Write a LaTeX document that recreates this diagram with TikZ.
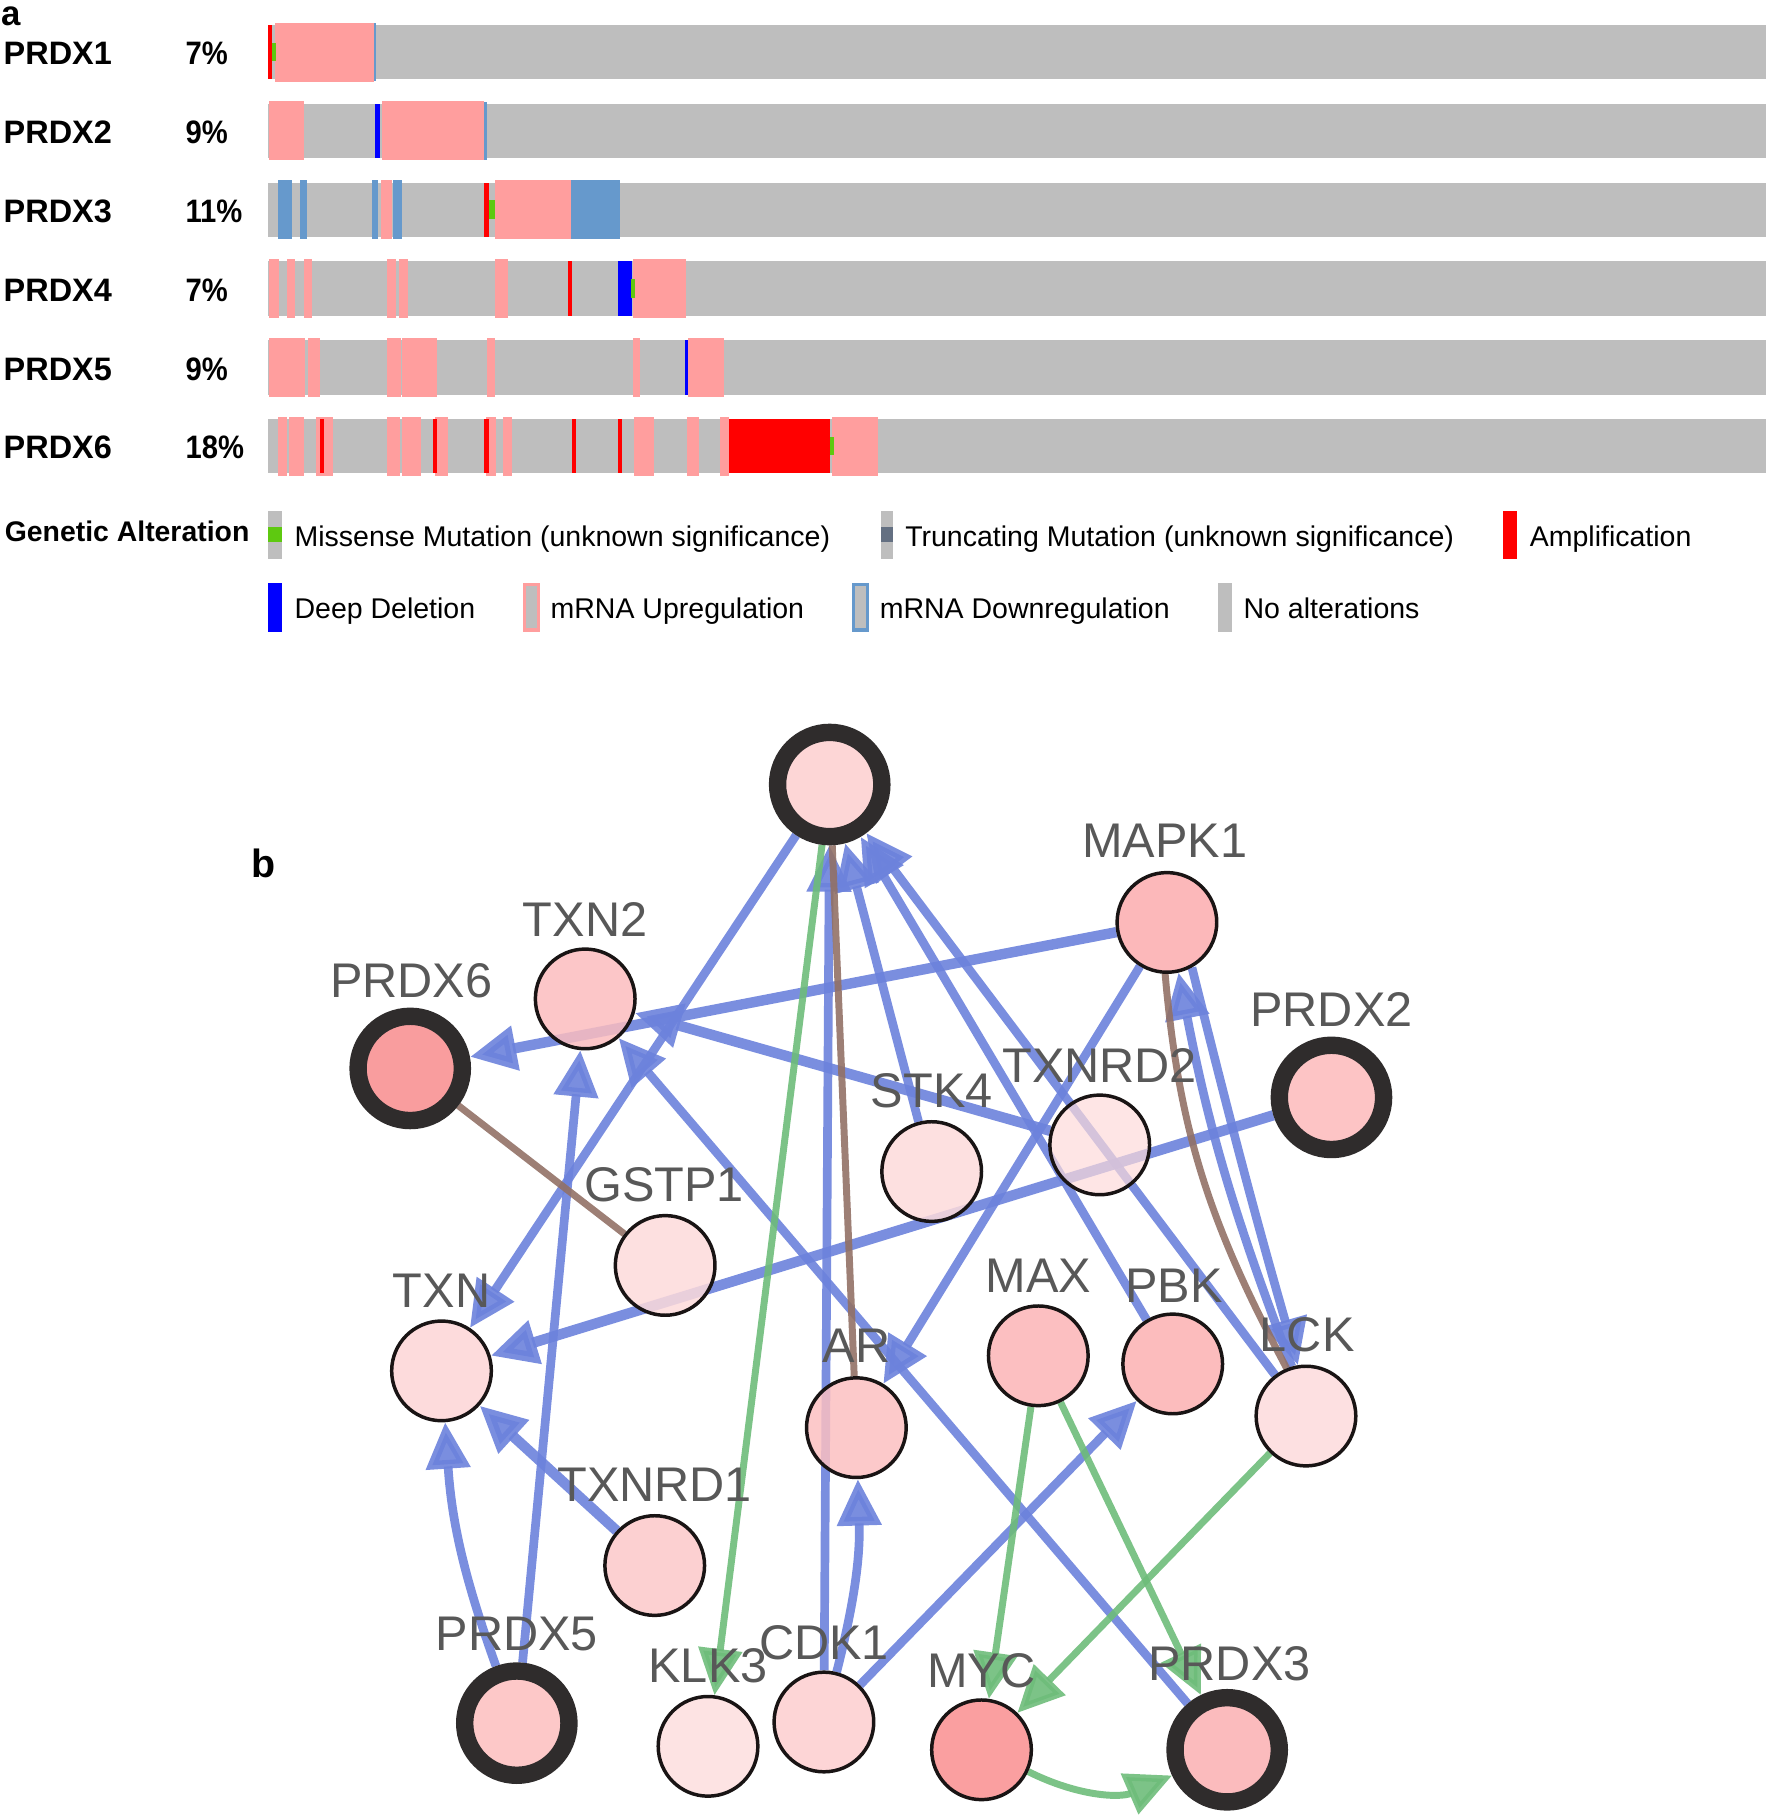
\documentclass[tikz,border=0pt]{standalone}
\usepackage{fontspec}
\setmainfont{Liberation Sans}
\usetikzlibrary{arrows.meta}
\pgfdeclarelayer{edges}
\pgfsetlayers{edges,main}

\definecolor{gbar}{RGB}{190,190,190}
\definecolor{upc}{RGB}{255,158,158}
\definecolor{downc}{RGB}{102,153,204}
\definecolor{ampc}{RGB}{255,0,0}
\definecolor{delc}{RGB}{0,0,255}
\definecolor{misc}{RGB}{94,201,16}
\definecolor{trunc}{RGB}{100,112,130}
\definecolor{eblue}{RGB}{108,130,220}
\definecolor{egreen}{RGB}{110,188,122}
\definecolor{ebrown}{RGB}{146,113,102}
\definecolor{lblc}{RGB}{88,88,88}
\definecolor{ringc}{RGB}{47,44,44}
\definecolor{nborder}{RGB}{25,20,20}

\newcommand{\pgry}{\fill[gbar] (231,23.5) rectangle (1524,-23.5);}
\newcommand{\pup}[2]{\fill[upc] (#1,25.5) rectangle (#2,-25.5);}
\newcommand{\pdown}[2]{\fill[downc] (#1,25.5) rectangle (#2,-25.5);}
\newcommand{\pamp}[2]{\fill[ampc] (#1,23.5) rectangle (#2,-23.5);}
\newcommand{\pdel}[2]{\fill[delc] (#1,23.5) rectangle (#2,-23.5);}
\newcommand{\pmis}[2]{\fill[misc] (#1,8) rectangle (#2,-8);}
\newcommand{\pthin}[1]{\fill[downc] (#1-1,25) rectangle (#1+1,-25);}

\tikzset{
  rowlbl/.style={anchor=base west, inner sep=0pt, font=\bfseries\fontsize{28}{30}\selectfont},
  pctlbl/.style={anchor=base west, inner sep=0pt, font=\bfseries\fontsize{28}{30}\selectfont, xscale=0.9},
  legtxt/.style={anchor=base west, inner sep=0pt, font=\fontsize{24.6}{26}\selectfont},
  panel/.style={anchor=base west, inner sep=0pt, font=\bfseries\fontsize{34}{36}\selectfont},
  gnode/.style={circle, draw=nborder, line width=3pt, minimum size=86pt, inner sep=0pt, fill opacity=0.85},
  seed/.style={circle, draw=ringc, line width=15pt, minimum size=90pt, inner sep=0pt, fill opacity=0.9},
  glabel/.style={anchor=base, inner sep=0pt, text=lblc, font=\fontsize{42}{44}\selectfont},
  eb/.style={draw=eblue, line width=7.5pt, opacity=0.9, -{Triangle[length=40pt,width=37pt]}},
  ebt/.style={eb, line width=9pt},
  eg/.style={draw=egreen, line width=6pt, opacity=0.9, -{Triangle[length=40pt,width=37pt]}},
  ebr/.style={draw=ebrown, line width=6pt, opacity=0.9},
}

\begin{document}
\begin{tikzpicture}[x=1pt,y=1pt]
\useasboundingbox (0,0) rectangle (1527,-1568);

% ---------------- panel a ----------------
\node[panel, font=\bfseries\fontsize{30}{32}\selectfont] (pa) at (1,-22) {a};

\node[rowlbl] (r1) at (3,-56) {PRDX1};
\node[rowlbl] (r2) at (3,-124) {PRDX2};
\node[rowlbl] (r3) at (3,-192) {PRDX3};
\node[rowlbl] (r4) at (3,-260) {PRDX4};
\node[rowlbl] (r5) at (3,-328) {PRDX5};
\node[rowlbl] (r6) at (3,-396) {PRDX6};
\node[pctlbl] (q1) at (160,-56) {7\%};
\node[pctlbl] (q2) at (160,-124) {9\%};
\node[pctlbl] (q3) at (160,-192) {11\%};
\node[pctlbl] (q4) at (160,-260) {7\%};
\node[pctlbl] (q5) at (160,-328) {9\%};
\node[pctlbl] (q6) at (160,-396) {18\%};

\begin{scope}[yshift=-45pt]
\pgry
\pamp{231}{234.5}\pup{237}{323}\pmis{234.5}{238.5}\pthin{323.5}
\end{scope}
\begin{scope}[yshift=-113pt]
\pgry
\pup{232}{262}\pdel{324}{328}\pup{330}{418}\pthin{419}
\end{scope}
\begin{scope}[yshift=-181pt]
\pgry
\pdown{240}{252}\pdown{259}{265}\pdown{321}{326}\pup{329}{338}\pdown{339}{347}
\pamp{418}{422}\pmis{422}{427}\pup{427}{493}\pdown{493}{535}
\end{scope}
\begin{scope}[yshift=-249pt]
\pgry
\pup{232}{241}\pup{248}{255}\pup{262}{269}\pup{334}{342}\pup{344}{352}\pup{427}{438}
\pamp{490}{494}\pdel{533}{545}\pup{546}{592}\pmis{544.5}{548}
\end{scope}
\begin{scope}[yshift=-317pt]
\pgry
\pup{232}{263}\pup{266}{276}\pup{334}{346}\pup{347}{377}\pup{420}{427}\pup{546}{552}
\pdel{591}{594}\pup{594}{625}
\end{scope}
\begin{scope}[yshift=-385pt]
\pgry
\pup{240}{248}\pup{249}{262}\pup{273}{287}\pamp{276}{280}\pup{334}{345}\pup{347}{363}
\pup{375}{387}\pamp{374}{377}\pup{419}{428}\pamp{418}{422}\pup{434}{442}
\pamp{494}{497}\pamp{533}{537}\pup{547}{564}\pup{593}{603}\pup{621}{629}
\pamp{629}{716}\pup{718}{758}\pmis{716}{719.5}
\end{scope}

% legend
\node[anchor=base west, inner sep=0pt, font=\bfseries\fontsize{24.5}{26}\selectfont] (ga) at (4,-467) {Genetic Alteration};
\fill[gbar] (231,-441) rectangle (243,-482);
\fill[misc] (231,-455) rectangle (243,-468);
\node[legtxt] (t1) at (254,-472) {Missense Mutation (unknown significance)};
\fill[gbar] (760,-441) rectangle (771,-482);
\fill[trunc] (760,-455) rectangle (771,-468);
\node[legtxt] (t2) at (781,-472) {Truncating Mutation (unknown significance)};
\fill[ampc] (1297,-441) rectangle (1309,-482);
\node[legtxt] (t3) at (1320,-472) {Amplification};
\fill[delc] (231,-503) rectangle (243,-545);
\node[legtxt] (t4) at (254,-534) {Deep Deletion};
\fill[upc] (451,-503) rectangle (466,-545);
\fill[gbar] (454,-506) rectangle (463,-542);
\node[legtxt] (t5) at (475,-534) {mRNA Upregulation};
\fill[downc] (735,-503) rectangle (750,-545);
\fill[gbar] (738,-506) rectangle (747,-542);
\node[legtxt] (t6) at (759,-534) {mRNA Downregulation};
\fill[gbar] (1051,-503) rectangle (1063,-545);
\node[legtxt] (t7) at (1073,-534) {No alterations};

% ---------------- panel b ----------------
\node[panel] (pb) at (217,-757) {b};

\node[seed,  fill={rgb,255:red,253;green,209;blue,210}] (PRDX1)  at (716,-677) {};
\node[gnode, fill={rgb,255:red,251;green,171;blue,174}] (MAPK1)  at (1007,-796) {};
\node[gnode, fill={rgb,255:red,251;green,188;blue,190}] (TXN2)   at (505,-862) {};
\node[seed,  fill={rgb,255:red,248;green,146;blue,148}] (PRDX6)  at (354,-922) {};
\node[seed,  fill={rgb,255:red,253;green,190;blue,191}] (PRDX2)  at (1149,-947) {};
\node[gnode, fill={rgb,255:red,253;green,218;blue,218}] (STK4)   at (804,-1011) {};
\node[gnode, fill={rgb,255:red,253;green,218;blue,218}, fill opacity=0.7] (TXNRD2) at (949,-988) {};
\node[gnode, fill={rgb,255:red,253;green,218;blue,218}] (GSTP1)  at (574,-1092) {};
\node[gnode, fill={rgb,255:red,253;green,213;blue,214}] (TXN)    at (381,-1183) {};
\node[gnode, fill={rgb,255:red,251;green,180;blue,182}] (MAX)    at (896,-1170) {};
\node[gnode, fill={rgb,255:red,251;green,176;blue,178}] (PBK)    at (1012,-1177) {};
\node[gnode, fill={rgb,255:red,253;green,218;blue,220}] (LCK)    at (1127,-1222) {};
\node[gnode, fill={rgb,255:red,251;green,191;blue,193}] (AR)     at (739,-1232) {};
\node[gnode, fill={rgb,255:red,251;green,200;blue,201}] (TXNRD1) at (565,-1351) {};
\node[seed,  fill={rgb,255:red,253;green,194;blue,194}] (PRDX5)  at (446,-1487) {};
\node[gnode, fill={rgb,255:red,253;green,222;blue,222}] (KLK3)   at (611,-1507) {};
\node[gnode, fill={rgb,255:red,253;green,206;blue,207}] (CDK1)   at (711,-1486) {};
\node[gnode, fill={rgb,255:red,249;green,142;blue,143}] (MYC)    at (847,-1510) {};
\node[seed,  fill={rgb,255:red,251;green,180;blue,182}] (PRDX3)  at (1059,-1510) {};

\begin{pgfonlayer}{edges}
\draw[eb] (CDK1) -- (PRDX1);
\draw[eb] (STK4) -- (PRDX1);
\draw[eb] (PBK) -- (PRDX1);
\draw[eb] (LCK) -- (PRDX1);
\draw[eb] (PRDX1) -- (TXN);
\draw[ebt] (MAPK1) -- (PRDX6);
\draw[ebt] (TXNRD2) -- (TXN2);
\draw[eb] (PRDX3) -- (TXN2);
\draw[eb] (PRDX5) -- (TXN2);
\draw[ebt] (PRDX2) -- (TXN);
\draw[eb] (MAPK1) -- (AR);
\draw[eb] (LCK.106) to[out=111,in=-79] (MAPK1.-77);
\draw[eb] (MAPK1.-61) to[out=-76,in=106] (LCK.99);
\draw[eb] (PRDX5) to[bend left=8] (TXN);
\draw[ebt] (TXNRD1) -- (TXN);
\draw[eb] (CDK1) to[bend right=8] (AR);
\draw[eb] (CDK1) -- (PBK);
\draw[eg] (PRDX1) -- (KLK3);
\draw[eg] (MAX) -- (MYC);
\draw[eg] (MAX) -- (PRDX3);
\draw[eg] (LCK) -- (MYC);
\draw[eg] (MYC) to[bend right=25] (PRDX3);
\draw[ebr] (PRDX6) -- (GSTP1);
\draw[ebr] (PRDX1) -- (AR);
\draw[ebr] (MAPK1.-92) to[out=-85,in=118] (LCK.112);
\end{pgfonlayer}

\node[glabel] (lMAPK1)  at (1005,-740) {MAPK1};
\node[glabel] (lTXN2)   at (505,-808) {TXN2};
\node[glabel] (lPRDX6)  at (355,-861) {PRDX6};
\node[glabel] (lPRDX2)  at (1149,-886) {PRDX2};
\node[glabel] (lSTK4)   at (804,-956) {STK4};
\node[glabel] (lTXNRD2) at (949,-934) {TXNRD2};
\node[glabel] (lGSTP1)  at (573,-1037) {GSTP1};
\node[glabel] (lTXN)    at (381,-1128) {TXN};
\node[glabel] (lMAX)    at (896,-1115) {MAX};
\node[glabel] (lPBK)    at (1013,-1124) {PBK};
\node[glabel] (lLCK)    at (1128,-1166) {LCK};
\node[glabel] (lAR)     at (739,-1176) {AR};
\node[glabel] (lTXNRD1) at (565,-1296) {TXNRD1};
\node[glabel] (lPRDX5)  at (446,-1424) {PRDX5};
\node[glabel] (lKLK3)   at (611,-1452) {KLK3};
\node[glabel] (lCDK1)   at (711,-1432) {CDK1};
\node[glabel] (lMYC)    at (847,-1456) {MYC};
\node[glabel] (lPRDX3)  at (1061,-1450) {PRDX3};
\end{tikzpicture}
\end{document}
